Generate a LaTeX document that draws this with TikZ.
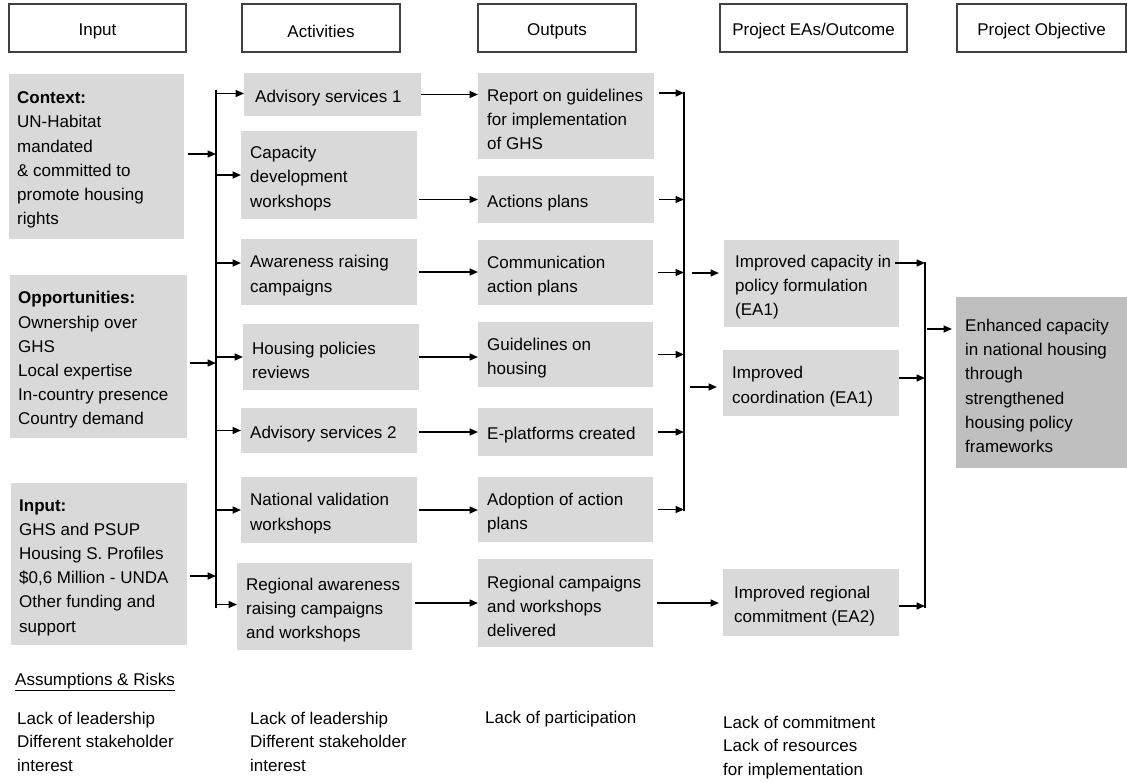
\documentclass[tikz,border=0pt]{standalone}
\usepackage{fontspec}
\setmainfont{Liberation Sans}
\usetikzlibrary{arrows.meta,calc}
\definecolor{boxgray}{RGB}{217,217,217}
\definecolor{objgray}{RGB}{191,191,191}
\definecolor{hdrline}{RGB}{64,64,64}
\newcommand\dgfont{\fontsize{17}{24.2}\selectfont}
\newcommand\dgfontb{\fontsize{17}{23.5}\selectfont}
% style, name, x1, y1, x2, y2, text x offset, text
\newcommand\mkbox[8]{%
  \pgfmathsetmacro\bxw{#5-#3}%
  \pgfmathsetmacro\bxh{#6-#4}%
  \node[#1,minimum width=\bxw pt,minimum height=\bxh pt] (#2) at ({(#3+#5)/2},{(#4+#6)/2}) {};%
  \node[txt,anchor=west] (#2t) at ([xshift=#7pt,yshift=-3.5pt]#2.west) {#8};%
}
% name, x1, y1, x2, y2, text
\newcommand\mkhdr[6]{%
  \pgfmathsetmacro\bxw{#4-#2}%
  \pgfmathsetmacro\bxh{#5-#3}%
  \node[hbox,minimum width=\bxw pt,minimum height=\bxh pt] (#1) at ({(#2+#4)/2},{(#3+#5)/2}) {};%
  \node[txt] (#1t) at ([yshift=-3.5pt]#1.center) {#6};%
}
\begin{document}
\begin{tikzpicture}[x=1pt,y=-1pt,
  gbox/.style={fill=boxgray,draw=none,inner sep=0pt,outer sep=0pt},
  obox/.style={fill=objgray,draw=none,inner sep=0pt,outer sep=0pt},
  hbox/.style={draw=hdrline,line width=1.2pt,fill=white,inner sep=0pt},
  txt/.style={font=\dgfont,align=left,inner sep=0pt},
  note/.style={font=\dgfontb,align=left,inner sep=0pt,anchor=base west},
  arr/.style={line width=1.6pt,-{Triangle[length=8.5pt,width=7pt]}},
  busline/.style={line width=2pt}]
\useasboundingbox (0,0) rectangle (1127,782);

% headers
\mkhdr{hIn}{9}{4}{186}{52}{Input}
\mkhdr{hAct}{242}{4}{400}{52}{Activities}
\mkhdr{hOut}{478}{4}{636}{52}{Outputs}
\mkhdr{hEA}{720}{4}{907}{52}{Project EAs/Outcome}
\mkhdr{hObj}{957}{4}{1126}{52}{Project Objective}

% input column
\mkbox{gbox}{ctx}{9}{74}{184}{239}{8}{\textbf{Context:}\\UN-Habitat\\mandated\\\& committed to\\promote housing\\rights}
\mkbox{gbox}{opp}{10}{275}{187}{438}{8}{\textbf{Opportunities:}\\Ownership over\\GHS\\Local expertise\\In-country presence\\Country demand}
\mkbox{gbox}{inp}{11}{483}{187}{645}{8}{\textbf{Input:}\\GHS and PSUP\\Housing S. Profiles\\\$0,6 Million - UNDA\\Other funding and\\support}

% activities
\mkbox{gbox}{a1}{244}{73}{421}{116}{11}{Advisory services 1}
\mkbox{gbox}{a2}{241}{131}{417}{219}{9}{Capacity\\development\\workshops}
\mkbox{gbox}{a3}{241}{239}{417}{305}{9}{Awareness raising\\campaigns}
\mkbox{gbox}{a4}{243}{324}{419}{390}{9}{Housing policies\\reviews}
\mkbox{gbox}{a5}{241}{408}{417}{453}{9}{Advisory services 2}
\mkbox{gbox}{a6}{241}{477}{417}{543}{9}{National validation\\workshops}
\mkbox{gbox}{a7}{237}{563}{412}{650}{9}{Regional awareness\\raising campaigns\\and workshops}

% outputs
\mkbox{gbox}{o1}{478}{73}{654}{159}{9}{Report on guidelines\\for implementation\\of GHS}
\mkbox{gbox}{o2}{478}{176}{654}{223}{9}{Actions plans}
\mkbox{gbox}{o3}{478}{240}{653}{305}{9}{Communication\\action plans}
\mkbox{gbox}{o4}{478}{322}{653}{387}{9}{Guidelines on\\housing}
\mkbox{gbox}{o5}{478}{408}{653}{456}{9}{E-platforms created}
\mkbox{gbox}{o6}{478}{477}{653}{542}{9}{Adoption of action\\plans}
\mkbox{gbox}{o7}{478}{559}{653}{647}{9}{Regional campaigns\\and workshops\\delivered}

% expected accomplishments
\mkbox{gbox}{e1}{724}{240}{899}{327}{11}{Improved capacity in\\policy formulation\\(EA1)}
\mkbox{gbox}{e2}{723}{350}{899}{416}{9}{Improved\\coordination (EA1)}
\mkbox{gbox}{e3}{723}{569}{899}{636}{11}{Improved regional\\commitment (EA2)}

% objective
\mkbox{obox}{obj}{956}{297}{1127}{468}{9}{Enhanced capacity\\in national housing\\through\\strengthened\\housing policy\\frameworks}

% bus positions
\coordinate (B1) at (216,0);
\coordinate (B2) at (684,0);
\coordinate (B3) at (925,0);

% inputs -> bus 1
\draw[arr] ([xshift=4pt,yshift=2.5pt]ctx.east) -- ([yshift=2.5pt]ctx.east -| B1);
\draw[arr] ([xshift=3pt,yshift=-6.5pt]opp.east) -- ([yshift=-6.5pt]opp.east -| B1);
\draw[arr] ([xshift=3pt,yshift=-12pt]inp.east) -- ([yshift=-12pt]inp.east -| B1);
\draw[busline] ([yshift=5pt]a1.west -| B1) -- ([yshift=-1pt]a7.west -| B1);

% bus 1 -> activities
\draw[arr] ([yshift=1pt]a1.west -| B1) -- ([yshift=1pt]a1.west);
\draw[arr] (a2.west -| B1) -- (a2.west);
\draw[arr] ([yshift=9pt]a3.west -| B1) -- ([yshift=9pt]a3.west);
\draw[arr] (a4.west -| B1) -- (a4.west);
\draw[arr] (a5.west -| B1) -- (a5.west);
\draw[arr] (a6.west -| B1) -- (a6.west);
\draw[arr] ([yshift=2pt]a7.west -| B1) -- ([yshift=2pt]a7.west);

% activities -> outputs
\draw[arr] (a1.east) -- (a1.east -| o1.west);
\draw[arr] ([xshift=2pt]o2.west -| a2.east) -- (o2.west);
\draw[arr] ([xshift=2pt]a3.east) -- (a3.east -| o3.west);
\draw[arr] (a4.east) -- (a4.east -| o4.west);
\draw[arr] ([xshift=2pt]o5.west -| a5.east) -- (o5.west);
\draw[arr] ([xshift=2pt]a6.east) -- (a6.east -| o6.west);
\draw[arr] ([xshift=3pt]o7.west -| a7.east) -- (o7.west);

% outputs -> bus 2
\draw[arr] ([xshift=5pt,yshift=23pt]o1.east) -- ([yshift=23pt]o1.east -| B2);
\draw[arr] ([xshift=5pt]o2.east) -- (o2.east -| B2);
\draw[arr] ([xshift=5pt]o3.east) -- (o3.east -| B2);
\draw[arr] ([xshift=5pt]o4.east) -- (o4.east -| B2);
\draw[arr] ([xshift=5pt]o5.east) -- (o5.east -| B2);
\draw[arr] ([xshift=5pt]o6.east) -- (o6.east -| B2);
\draw[busline] ([yshift=24pt]o1.east -| B2) -- ([yshift=-1pt]o6.east -| B2);

% bus 2 -> EAs
\draw[arr] ([xshift=8pt,yshift=10.5pt]e1.west -| B2) -- ([xshift=-5pt,yshift=10.5pt]e1.west);
\draw[arr] ([xshift=6pt,yshift=-4pt]e2.west -| B2) -- ([xshift=-6pt,yshift=-4pt]e2.west);
\draw[arr] ([xshift=4pt]o7.east) -- ([xshift=-4pt]o7.east -| e3.west);

% EAs -> bus 3
\draw[arr] ([xshift=-4pt,yshift=20.5pt]e1.east) -- ([yshift=20.5pt]e1.east -| B3);
\draw[arr] ([yshift=5pt]e2.east) -- ([yshift=5pt]e2.east -| B3);
\draw[arr] ([yshift=-3.5pt]e3.east) -- ([yshift=-3.5pt]e3.east -| B3);
\draw[busline] ([yshift=21.5pt]e1.east -| B3) -- ([yshift=-5.5pt]e3.east -| B3);

% bus 3 -> objective
\draw[arr] ([xshift=2pt,yshift=53.5pt]obj.west -| B3) -- ([xshift=-4pt,yshift=53.5pt]obj.west);

% assumptions and risks
\node[note] (ar) at (15,685) {\underline{Assumptions \& Risks}};
\node[note] (r1) at (17,771) {Lack of leadership\\Different stakeholder\\interest};
\node[note] (r2) at (250,771) {Lack of leadership\\Different stakeholder\\interest};
\node[note] (r3) at (485,723) {Lack of participation};
\node[note] (r4) at (723,775) {Lack of commitment\\Lack of resources\\for implementation};
\end{tikzpicture}
\end{document}
